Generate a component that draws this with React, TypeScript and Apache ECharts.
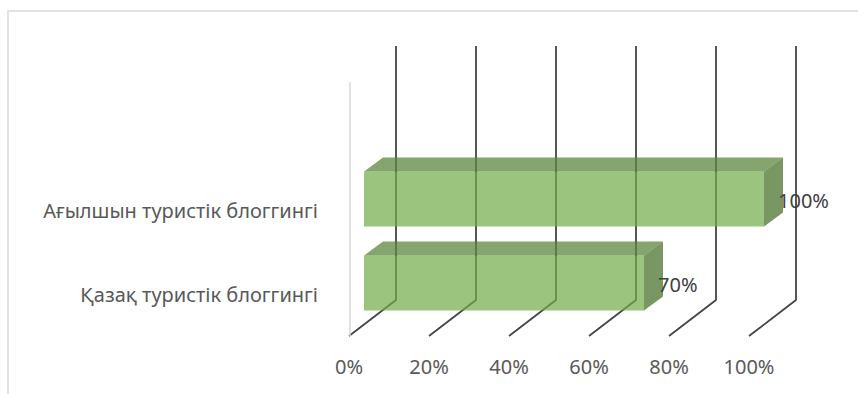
import React, { useEffect, useRef } from "react";
import * as echarts from "echarts";

const categories = ["Қазақ туристік блоггингі", "Ағылшын туристік блоггингі"];
const values = [70, 100];
const ticks = [0, 20, 40, 60, 80, 100];

const FONT = "'Noto Sans', sans-serif";

export default function App() {
  const ref = useRef<HTMLDivElement>(null);
  useEffect(() => {
    if (!ref.current) return;
    const chart = echarts.init(ref.current, undefined, { renderer: "svg" });
    const wallDx = 47, wallDy = -36, wallH = 254;
    const option: any = {
      animation: false,
      backgroundColor: "#ffffff",
      graphic: [
        {
          type: "rect",
          shape: { x: 8, y: 11, width: 1000, height: 600 },
          style: { fill: "none", stroke: "#d9d9d9", lineWidth: 1.5 },
          silent: true,
        },
      ],
      grid: { left: 349, right: 109, top: 168, bottom: 58 },
      xAxis: {
        type: "value",
        min: 0,
        max: 100,
        interval: 20,
        axisLine: { show: false },
        axisTick: { show: false },
        splitLine: { show: false },
        axisLabel: {
          formatter: "{value}%",
          color: "#595959",
          fontSize: 20,
          fontFamily: FONT,
          margin: 20,
        },
      },
      yAxis: {
        type: "category",
        data: categories,
        axisLine: { show: false },
        axisTick: { show: false },
        splitLine: { show: false },
        axisLabel: {
          color: "#595959",
          fontSize: 20,
          fontFamily: FONT,
          margin: 31,
        },
      },
      series: [
        {
          type: "custom",
          z: 1,
          silent: true,
          data: ticks.map((t) => [t, 0]),
          encode: { x: 0, y: 1 },
          renderItem: (params: any, api: any) => {
            const t = api.value(0);
            const cs = params.coordSys;
            const floorY = cs.y + cs.height;
            const px = api.coord([t, 0])[0];
            const children: any[] = [
              {
                type: "polyline",
                shape: {
                  points: [
                    [px, floorY],
                    [px + wallDx, floorY + wallDy],
                    [px + wallDx, floorY + wallDy - wallH],
                  ],
                },
                style: { stroke: "#454545", lineWidth: 1.8, fill: "none" },
              },
            ];
            if (t === ticks[0]) {
              children.push({
                type: "line",
                shape: { x1: px + 1, y1: floorY, x2: px + 1, y2: floorY - wallH },
                style: { stroke: "#d9d9d9", lineWidth: 1.5 },
              });
            }
            return { type: "group", children };
          },
        },
        {
          type: "custom",
          z: 2,
          data: values.map((v, i) => [v, i]),
          encode: { x: 0, y: 1 },
          renderItem: (params: any, api: any) => {
            const v = api.value(0);
            const c = api.value(1);
            const p0 = api.coord([0, c]);
            const p1 = api.coord([v, c]);
            const band = api.size([0, 1])[1];
            const h = band * 0.655;
            const fx = 15, fy = -11, dx = 19, dy = -14;
            const x0 = p0[0] + fx;
            const x1 = p1[0] + fx;
            const yT = p0[1] + fy - h / 2;
            const yB = yT + h;
            return {
              type: "group",
              children: [
                {
                  type: "rect",
                  shape: { x: x0, y: yT, width: x1 - x0, height: h },
                  style: { fill: "rgba(112,173,71,0.7)" },
                },
                {
                  type: "polygon",
                  shape: { points: [[x0, yT], [x0 + dx, yT + dy], [x1 + dx, yT + dy], [x1, yT]] },
                  style: { fill: "rgba(92,135,62,0.75)" },
                },
                {
                  type: "polygon",
                  shape: { points: [[x1, yT], [x1 + dx, yT + dy], [x1 + dx, yB + dy], [x1, yB]] },
                  style: { fill: "rgba(82,122,55,0.78)" },
                },
                {
                  type: "text",
                  x: x1 + 14,
                  y: (yT + yB) / 2 + 1,
                  style: {
                    text: v + "%",
                    fill: "#404040",
                    fontSize: 20,
                    fontFamily: FONT,
                    verticalAlign: "middle",
                    align: "left",
                  },
                },
              ],
            };
          },
        },
      ],
    };
    chart.setOption(option);
    return () => chart.dispose();
  }, []);
  return (
    <div
      ref={ref}
      style={{ position: "fixed", left: 0, top: 0, width: 858, height: 394, background: "#fff" }}
    />
  );
}
